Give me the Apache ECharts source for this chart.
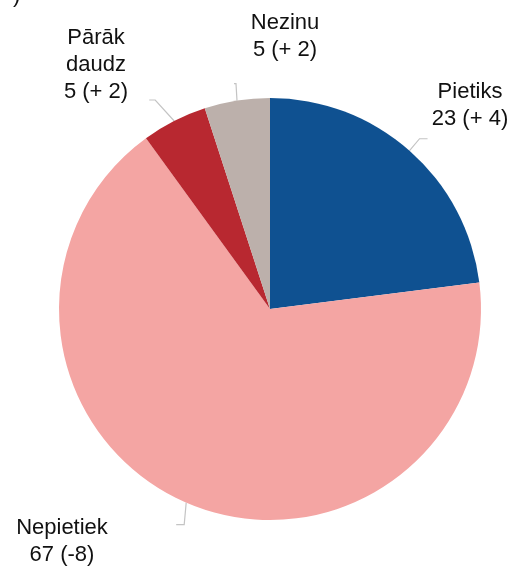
<!DOCTYPE html>
<html>
	<head>
		<meta charset="utf-8" />
		<title></title>
		<script type="text/javascript" src="https://cdn.jsdelivr.net/npm/echarts@6/dist/echarts.min.js"></script>
		<style>body{margin:0;background:#fff;}</style>
	</head>
	<body>
		<div id="main" style="width: 516px;height: 567px;"></div>
		<script type="text/javascript">
	// dati
	var names = ['Pietiks', 'Nepietiek', 'Pārāk\ndaudz', 'Nezinu'];
	var values = [23, 67, 5, 5];
	var changes = ['+ 4', '-8', '+ 2', '+ 2'];
	var colors = ['#0f5191', '#f4a5a3', '#b82830', '#bcb0ab'];

	// label centres and leader line bends (layout only)
	var labelPos = [[470, 105], [62, 541], [96, 65], [285, 36]];
	var bends = [[[10, -12], [8, 0]], [[-2, 22], [-8, 0]], [[-19, -21], [-6, 0]], [[-1, -17], [-2, 0]]];

	var myChart = echarts.init(document.getElementById('main'));
	var option = {
		animation: false,
		graphic: [{
			type: 'text', left: 13, top: -15,
			style: {text: ')', fontSize: 22, fontFamily: 'Liberation Sans', fill: '#111'}
		}],
		series: [{
			type: 'pie',
			center: [270, 309],
			radius: 211,
			startAngle: 90,
			clockwise: true,
			data: names.map(function (n, i) {
				return {value: values[i], name: n, itemStyle: {color: colors[i]}};
			}),
			label: {
				show: true,
				position: 'outside',
				fontFamily: 'Liberation Sans',
				fontSize: 22,
				lineHeight: 27,
				color: '#111',
				align: 'center',
				overflow: 'none',
				formatter: function (p) {
					return p.name + '\n' + p.value + ' (' + changes[p.dataIndex] + ')';
				}
			},
			labelLine: {
				show: true,
				length: 12,
				length2: 8,
				lineStyle: {color: '#c4c4c4', width: 1.2}
			},
			labelLayout: function (params) {
				var i = params.dataIndex;
				var p = labelPos[i];
				var s = params.labelLinePoints[0];
				var b = bends[i];
				var p1 = [s[0] + b[0][0], s[1] + b[0][1]];
				var p2 = [p1[0] + b[1][0], p1[1] + b[1][1]];
				return {x: p[0], y: p[1], align: 'center', verticalAlign: 'middle',
					labelLinePoints: [s, p1, p2]};
			}
		}]
	};
	myChart.setOption(option);
		</script>
	</body>
</html>
